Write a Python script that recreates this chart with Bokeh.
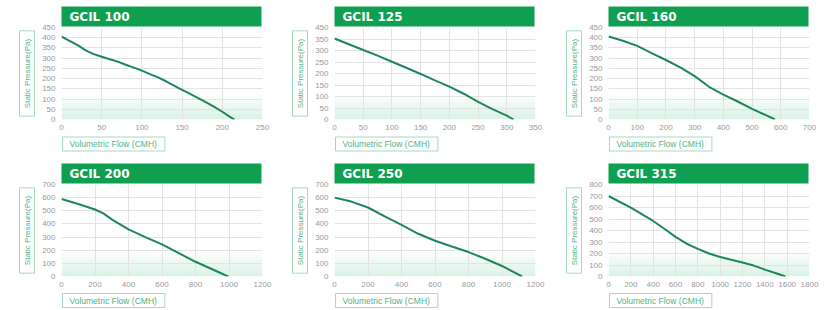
from bokeh.plotting import figure
from bokeh.models import Range1d, FixedTicker, BoxAnnotation, Title
from bokeh.layouts import gridplot
from bokeh.embed import file_html
from bokeh.resources import INLINE

# ---------------- data ----------------
titles = ["GCIL 100", "GCIL 125", "GCIL 160", "GCIL 200", "GCIL 250", "GCIL 315"]

flow_100 = [0, 10, 20, 30, 40, 50, 60, 70, 80, 90, 100, 110, 120, 130, 140, 150, 160, 170, 180, 190, 200, 210, 215]
pres_100 = [405, 385, 364, 338, 320, 307, 295, 283, 268, 254, 239, 222, 206, 187, 166, 145, 125, 105, 84, 62, 38, 12, 0]

flow_125 = [0, 25, 50, 75, 100, 125, 150, 175, 200, 225, 250, 275, 300, 312]
pres_125 = [352, 327, 302, 278, 251, 225, 198, 170, 143, 112, 77, 45, 17, 0]

flow_160 = [0, 50, 100, 150, 200, 250, 300, 350, 400, 450, 500, 550, 580]
pres_160 = [406, 385, 360, 325, 291, 255, 212, 160, 122, 88, 52, 20, 0]

flow_200 = [0, 100, 200, 250, 300, 400, 500, 600, 700, 800, 900, 995]
pres_200 = [590, 552, 510, 480, 435, 358, 300, 245, 178, 112, 55, 0]

flow_250 = [0, 100, 200, 300, 400, 500, 600, 700, 800, 900, 1000, 1120]
pres_250 = [600, 570, 525, 458, 392, 325, 272, 228, 186, 135, 80, 0]

flow_315 = [0, 200, 400, 500, 600, 700, 800, 900, 1000, 1100, 1200, 1300, 1400, 1500, 1585]
pres_315 = [700, 598, 483, 415, 345, 285, 240, 200, 170, 145, 122, 95, 60, 28, 0]

xticks_100 = [0, 50, 100, 150, 200, 250]
xticks_125 = [0, 50, 100, 150, 200, 250, 300, 350]
xticks_160 = [0, 100, 200, 300, 400, 500, 600, 700]
xticks_200 = [0, 200, 400, 600, 800, 1000, 1200]
xticks_250 = [0, 200, 400, 600, 800, 1000, 1200]
xticks_315 = [0, 200, 400, 600, 800, 1000, 1200, 1400, 1600, 1800]

yticks_450 = [0, 50, 100, 150, 200, 250, 300, 350, 400, 450]
yticks_125 = [0, 50, 100, 150, 200, 250, 300, 350, 400]
ylabels_125 = ["0", "50", "100", "150", "200", "250", "300", "350", "450"]
yticks_700 = [0, 100, 200, 300, 400, 500, 600, 700]
yticks_800 = [0, 100, 200, 300, 400, 500, 600, 700, 800]

y_title = "Static Pressure(Pa)"
x_title = "Volumetric Flow (CMH)"

# ---------------- style ----------------
GREEN = "#0f9f50"
LINE = "#1d875c"
BOX_LINE = "#a3dbc2"
BOX_TEXT = "#4fb385"
TICK = "#9a9a9a"
GRID = "#e3e3e3"
FW, FH = 201, 92
COL_W = [273, 274, 282]
ROW_H = [157, 153]
XLAB_STANDOFF = [5, 4]
LEFT, TOP = 61, 27


def panel(title, xs, ys, xticks, yticks, col, rowi, ylabels=None):
    X = xticks[-1]
    Y = yticks[-1]
    p = figure(frame_width=FW, frame_height=FH, output_backend="svg",
               toolbar_location=None, x_range=Range1d(0, X), y_range=Range1d(0, Y),
               min_border_left=LEFT, min_border_right=COL_W[col] - LEFT - FW,
               min_border_top=TOP, min_border_bottom=ROW_H[rowi] - TOP - FH)
    p.outline_line_color = None
    for ax in (p.xaxis[0], p.yaxis[0]):
        ax.axis_line_color = None
        ax.major_tick_line_color = None
        ax.minor_tick_line_color = None
        ax.major_tick_out = 0
        ax.major_tick_in = 0
        ax.major_label_text_color = TICK
        ax.major_label_text_font = "Liberation Sans"
        ax.major_label_text_font_size = "8px"
    p.xaxis.ticker = FixedTicker(ticks=xticks)
    p.yaxis.ticker = FixedTicker(ticks=yticks)
    p.xaxis.major_label_standoff = 5
    p.yaxis.major_label_standoff = 6
    if ylabels is not None:
        p.yaxis.major_label_overrides = {t: l for t, l in zip(yticks, ylabels)}
    p.xgrid.grid_line_color = GRID
    p.ygrid.grid_line_color = GRID

    # soft green band at the bottom of the frame
    n = 12
    h = 0.26 * Y / n
    for i in range(n):
        p.add_layout(BoxAnnotation(bottom=i * h, top=(i + 1) * h, fill_color="#2bb673",
                                   fill_alpha=0.16 * (1 - i / n) + 0.01,
                                   line_color=None, level="image"))

    p.line(xs, ys, line_color=LINE, line_width=2)

    # green title bar  (padding: left, right, top, bottom)
    p.add_layout(Title(text=title, align="left", text_color="white",
                       text_font="DejaVu Sans", text_font_style="bold",
                       text_font_size="12px", background_fill_color=GREEN,
                       padding=(8, 132, 3, 3), standoff=2, offset=0), "above")
    # axis label boxes
    p.add_layout(Title(text=y_title, align="center", text_color=BOX_TEXT,
                       text_font="Liberation Sans", text_font_style="normal",
                       text_font_size="8px", border_line_color=BOX_LINE,
                       padding=(8, 8, 3, 3), standoff=10), "left")
    p.add_layout(Title(text=x_title, align="left", text_color=BOX_TEXT,
                       text_font="Liberation Sans", text_font_style="normal",
                       text_font_size="8.5px", border_line_color=BOX_LINE,
                       padding=(7, 8, 2, 2), standoff=XLAB_STANDOFF[rowi], offset=1),
                 "below")
    return p


p1 = panel(titles[0], flow_100, pres_100, xticks_100, yticks_450, 0, 0)
p2 = panel(titles[1], flow_125, pres_125, xticks_125, yticks_125, 1, 0, ylabels_125)
p3 = panel(titles[2], flow_160, pres_160, xticks_160, yticks_450, 2, 0)
p4 = panel(titles[3], flow_200, pres_200, xticks_200, yticks_700, 0, 1)
p5 = panel(titles[4], flow_250, pres_250, xticks_250, yticks_700, 1, 1)
p6 = panel(titles[5], flow_315, pres_315, xticks_315, yticks_800, 2, 1)

grid = gridplot([[p1, p2, p3], [p4, p5, p6]], toolbar_location=None)

open("out.html", "w").write(file_html(grid, INLINE))
